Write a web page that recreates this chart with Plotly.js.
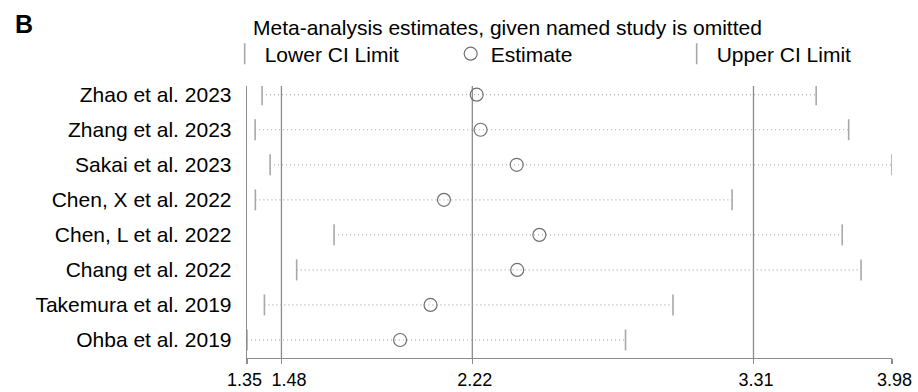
<!DOCTYPE html>
<html>
<head>
<meta charset="utf-8">
<script src="https://cdn.plot.ly/plotly-3.0.1.min.js"></script>
<style>html,body{margin:0;padding:0;background:#fff;}#chart{width:918px;height:392px;}</style>
</head>
<body>
<div id="chart"></div>
<script>
// Data
const studies = ["Zhao et al. 2023", "Zhang et al. 2023", "Sakai et al. 2023", "Chen, X et al. 2022",
                 "Chen, L et al. 2022", "Chang et al. 2022", "Takemura et al. 2019", "Ohba et al. 2019"];
const estimate = [2.237, 2.252, 2.392, 2.110, 2.480, 2.394, 2.058, 1.940];
const lowerCI  = [1.405, 1.378, 1.436, 1.379, 1.684, 1.539, 1.414, 1.3465];
const upperCI  = [3.553, 3.679, 3.847, 3.227, 3.654, 3.727, 2.998, 2.814];
const overallLines = [1.48, 2.22, 3.31];
const tickVals = [1.3465, 1.48, 2.22, 3.31, 3.847];
const tickText = ["1.35", "1.48", "2.22", "3.31", "3.98"];

const rows = studies.map((s, i) => i + 1);
const FONT = "Liberation Sans, Arial, sans-serif";
const FS = 21;
const NB = "\u00a0";

// dotted connecting lines
const lx = [], ly = [];
studies.forEach((s, i) => { lx.push(lowerCI[i], upperCI[i], null); ly.push(rows[i], rows[i], null); });

// keep crowded first two labels apart, like the reference
const tickLabels = tickText.map((t, i) => i === 0 ? t + NB : (i === 1 ? NB + NB + NB + t : NB + t));

const traces = [
  {x: lx, y: ly, mode: "lines", type: "scatter", showlegend: false, hoverinfo: "skip",
   line: {color: "#ababab", width: 1.2, dash: "1px,3px"}},
  {x: lowerCI, y: rows, mode: "markers", type: "scatter", name: "Lower CI Limit",
   marker: {symbol: "line-ns-open", size: 15, color: "#a8a8a8", line: {color: "#a8a8a8", width: 1.6}}},
  {x: estimate, y: rows, mode: "markers", type: "scatter", name: "Estimate",
   marker: {symbol: "circle-open", size: 13, color: "#707070", line: {color: "#707070", width: 1.2}}},
  {x: upperCI, y: rows, mode: "markers", type: "scatter", name: "Upper CI Limit",
   marker: {symbol: "line-ns-open", size: 15, color: "#a8a8a8", line: {color: "#a8a8a8", width: 1.6}}}
];

const shapes = overallLines.map(v => ({
  type: "line", xref: "x", yref: "paper", x0: v, x1: v, y0: 0, y1: 1,
  line: {color: "#8c8c8c", width: 1.3}, layer: "below"
}));

const layout = {
  width: 918, height: 392,
  margin: {l: 247, r: 26, t: 86, b: 34, pad: 0},
  paper_bgcolor: "#fff", plot_bgcolor: "#fff",
  font: {family: FONT, size: FS, color: "#000"},
  title: {text: "Meta-analysis estimates, given named study is omitted",
          x: 253/918, xref: "container", xanchor: "left",
          y: 1 - 28/392, yref: "container", yanchor: "middle",
          font: {family: FONT, size: FS, color: "#000"}},
  xaxis: {range: [1.3465, 3.847], tickvals: tickVals, ticktext: tickLabels, tickangle: 0,
          showgrid: false, zeroline: false, showline: true, linecolor: "#8c8c8c", linewidth: 1.3,
          ticks: "outside", ticklen: 5, tickcolor: "#8c8c8c", tickwidth: 1.3,
          tickfont: {family: FONT, size: 18, color: "#000"}, fixedrange: true},
  yaxis: {range: [8.514, 0.752], tickvals: rows, ticktext: studies,
          showgrid: false, zeroline: false, showline: true, linecolor: "#8c8c8c", linewidth: 1.3,
          ticks: "", ticklabelstandoff: 10,
          tickfont: {family: FONT, size: FS, color: "#000"}, fixedrange: true},
  shapes: shapes,
  showlegend: true,
  legend: {orientation: "h", x: (225 - 247.3) / 644.4, xanchor: "left", y: (358 - 54) / 272, yanchor: "middle",
           font: {family: FONT, size: FS, color: "#000"}, entrywidth: 181, entrywidthmode: "pixels",
           bgcolor: "rgba(0,0,0,0)", traceorder: "normal"},
  annotations: [{text: "<b>B</b>", xref: "paper", yref: "paper", x: (14 - 247.3) / 644.4, y: (358 - 24) / 272,
                 xanchor: "left", yanchor: "middle", showarrow: false,
                 font: {family: FONT, size: 25, color: "#000"}}]
};

Plotly.newPlot("chart", traces, layout, {displayModeBar: false, staticPlot: true});
</script>
</body>
</html>
